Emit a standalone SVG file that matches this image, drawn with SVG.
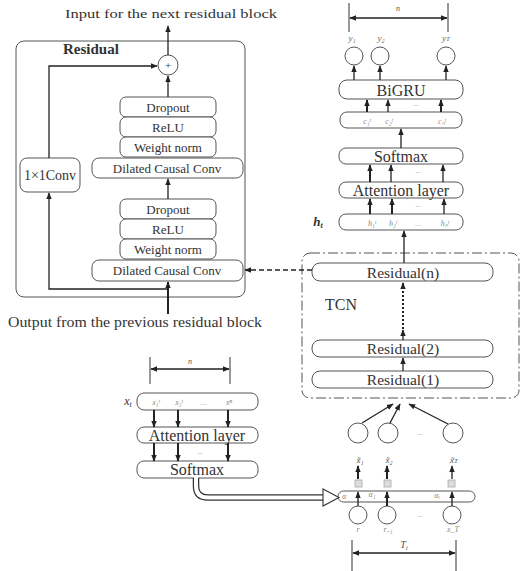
<svg xmlns="http://www.w3.org/2000/svg" width="522" height="571" viewBox="0 0 522 571">
<defs>
  <marker id="ah" viewBox="0 0 10 10" refX="9" refY="5" markerWidth="7" markerHeight="7" markerUnits="userSpaceOnUse" orient="auto-start-reverse">
    <path d="M0,1 L10,5 L0,9 z" fill="#222"/>
  </marker>
  <style>
    .box{fill:#fff;stroke:#555;stroke-width:1}
    .ln{fill:none;stroke:#222;stroke-width:1.3}
    .thk{fill:none;stroke:#222;stroke-width:2}
    .t{font-family:"Liberation Serif","Times New Roman",serif;fill:#333;text-anchor:middle}
    .st{font-size:13px}
    .lg{font-size:16px}
    .s{font-family:"Liberation Serif",serif;fill:#888;font-style:italic;text-anchor:middle;font-size:8px}
    .dots{font-family:"Liberation Serif",serif;fill:#aaa;text-anchor:middle;font-size:9px}
    .circ{fill:#fff;stroke:#555;stroke-width:1}
  </style>
</defs>

<!-- residual block detail -->
<g id="residual-detail">
  <rect x="16" y="41" width="229" height="256" rx="8" class="box"/>
  <text x="63" y="54" class="t" style="text-anchor:start;font-weight:bold;font-size:15px">Residual</text>
  <text x="171" y="18" class="t" style="font-size:13px" textLength="212" lengthAdjust="spacingAndGlyphs">Input for the next residual block</text>
  <text x="135" y="327" class="t" style="font-size:14px" textLength="254" lengthAdjust="spacingAndGlyphs">Output from the previous residual block</text>
</g>
<g id="add">
  <circle cx="168" cy="65" r="10" class="circ"/>
  <text x="168" y="69" class="t" style="font-size:11px">+</text>
</g>
<g id="conv1x1">
  <rect x="20" y="158" width="60" height="34" rx="7" class="box"/>
  <text x="50" y="180" class="t" style="font-size:14px">1×1Conv</text>
</g>
<g id="stack-upper">
  <rect x="120" y="97" width="96" height="20" rx="6" class="box"/>
  <text x="168" y="111.5" class="t st">Dropout</text>
  <rect x="120" y="117" width="96" height="20" rx="6" class="box"/>
  <text x="168" y="131.5" class="t st">ReLU</text>
  <rect x="120" y="137" width="96" height="20" rx="6" class="box"/>
  <text x="168" y="151.5" class="t st">Weight norm</text>
  <rect x="92" y="158" width="151" height="20" rx="7" class="box"/>
  <text x="167" y="172.5" class="t st">Dilated Causal Conv</text>
</g>
<g id="stack-lower">
  <rect x="120" y="199" width="96" height="20" rx="6" class="box"/>
  <text x="168" y="213.5" class="t st">Dropout</text>
  <rect x="120" y="219" width="96" height="20" rx="6" class="box"/>
  <text x="168" y="233.5" class="t st">ReLU</text>
  <rect x="120" y="239" width="96" height="20" rx="6" class="box"/>
  <text x="168" y="253.5" class="t st">Weight norm</text>
  <rect x="92" y="260" width="151" height="21" rx="7" class="box"/>
  <text x="167" y="275" class="t st">Dilated Causal Conv</text>
</g>

<!-- TCN -->
<g id="tcn">
  <rect x="302" y="253" width="217" height="145" rx="8" fill="none" stroke="#555" stroke-width="1" stroke-dasharray="10,3,2,3"/>
  <text x="325" y="310" class="t" style="text-anchor:start;font-size:16px">TCN</text>
</g>
<g id="res-n">
  <rect x="312" y="263" width="181" height="18" rx="8" class="box"/>
  <text x="403" y="277.5" class="t" style="font-size:15.5px">Residual(n)</text>
</g>
<g id="res-2">
  <rect x="312" y="340" width="181" height="17" rx="8" class="box"/>
  <text x="403" y="354" class="t" style="font-size:15.5px">Residual(2)</text>
</g>
<g id="res-1">
  <rect x="312" y="371" width="181" height="17" rx="8" class="box"/>
  <text x="403" y="385" class="t" style="font-size:15.5px">Residual(1)</text>
</g>

<!-- upper right column -->
<g id="h-seq">
  <rect x="339" y="214" width="124" height="16" rx="7" class="box"/>
  <text x="318" y="226" class="t" style="font-size:13px;font-weight:bold;font-style:italic">h<tspan font-size="8" dy="2">t</tspan></text>
  <text x="372" y="226" class="s">h₁ᵗ</text>
  <text x="393" y="226" class="s">h₂ᵗ</text>
  <text x="418" y="226" class="dots">...</text>
  <text x="445" y="226" class="s">hₙᵗ</text>
</g>
<g id="attn-top">
  <rect x="339" y="182" width="124" height="16" rx="7" class="box"/>
  <text x="401" y="195.5" class="t lg">Attention layer</text>
</g>
<g id="softmax-top">
  <rect x="339" y="148" width="124" height="16" rx="7" class="box"/>
  <text x="401" y="161.5" class="t lg">Softmax</text>
</g>
<g id="c-seq">
  <rect x="340" y="112" width="122" height="16" rx="7" class="box"/>
  <text x="367" y="124" class="s">c₁ᵗ</text>
  <text x="389" y="124" class="s">c₂ᵗ</text>
  <text x="442" y="124" class="s">cₙᵗ</text>
</g>
<g id="bigru">
  <rect x="339" y="80" width="124" height="19" rx="8" class="box"/>
  <text x="401" y="95.5" class="t lg">BiGRU</text>
</g>
<g id="outputs">
  <circle cx="354" cy="56" r="9" class="circ"/>
  <circle cx="380" cy="56" r="9" class="circ"/>
  <circle cx="446" cy="56" r="9" class="circ"/>
  <text x="352" y="41" class="s" style="font-size:9px;fill:#666">y₁</text>
  <text x="381" y="41" class="s" style="font-size:9px;fill:#666">y₂</text>
  <text x="446" y="41" class="s" style="font-size:9px;fill:#666">y<tspan font-size="7">T</tspan></text>
  <line x1="349" y1="3" x2="349" y2="32" stroke="#333" stroke-width="1"/>
  <line x1="448" y1="3" x2="448" y2="32" stroke="#333" stroke-width="1"/>
  <text x="398" y="11" class="s" style="font-size:8px;fill:#555">n</text>
</g>

<!-- lower left input attention -->
<g id="x-seq">
  <text x="128" y="405" class="t" style="font-size:12px;font-style:italic">x<tspan font-size="8" dy="2">t</tspan></text>
  <rect x="137" y="393" width="121" height="17" rx="7" class="box"/>
  <text x="156" y="405" class="s">x₁ᵗ</text>
  <text x="179" y="405" class="s">x₂ᵗ</text>
  <text x="203" y="405" class="dots">...</text>
  <text x="229" y="405" class="s">xⁿ</text>
  <line x1="150" y1="357" x2="150" y2="384" stroke="#333" stroke-width="1"/>
  <line x1="230" y1="357" x2="230" y2="384" stroke="#333" stroke-width="1"/>
  <text x="190" y="364" class="s" style="fill:#555">n</text>
</g>
<g id="attn-bottom">
  <rect x="137" y="427" width="121" height="16" rx="7" class="box"/>
  <text x="197" y="440.5" class="t lg">Attention layer</text>
</g>
<g id="softmax-bottom">
  <rect x="137" y="461" width="121" height="17" rx="7" class="box"/>
  <text x="197" y="475" class="t lg">Softmax</text>
</g>

<!-- weighted input -->
<g id="weights">
  <rect x="338" y="491" width="137" height="11" rx="5.5" class="box"/>
  <text x="344" y="499" class="s">α</text>
  <text x="372" y="497" class="s">α₁</text>
  <text x="437" y="498" class="s">αᵢ</text>
  <rect x="355" y="480" width="7" height="7" fill="#ddd" stroke="#aaa" stroke-width="0.8"/>
  <rect x="384" y="480" width="7" height="7" fill="#ddd" stroke="#aaa" stroke-width="0.8"/>
  <rect x="448" y="480" width="7" height="7" fill="#ddd" stroke="#aaa" stroke-width="0.8"/>
</g>
<g id="inputs-raw">
  <circle cx="358" cy="515" r="9" class="circ"/>
  <circle cx="387" cy="515" r="9" class="circ"/>
  <circle cx="452" cy="515" r="9" class="circ"/>
  <text x="358" y="532" class="s">r</text>
  <text x="388" y="532" class="s">r₋₁</text>
  <text x="453" y="532" class="s">x_T</text>
  <text x="420" y="518" class="dots">–</text>
  <line x1="352" y1="540" x2="352" y2="571" stroke="#333" stroke-width="1"/>
  <line x1="456" y1="540" x2="456" y2="571" stroke="#333" stroke-width="1"/>
  <text x="404" y="548" class="s" style="font-size:10px;fill:#555">T<tspan font-size="7" dy="2">i</tspan></text>
</g>
<g id="inputs-weighted">
  <circle cx="358" cy="433" r="10" class="circ"/>
  <circle cx="388" cy="433" r="10" class="circ"/>
  <circle cx="453" cy="433" r="10" class="circ"/>
  <text x="420" y="436" class="dots">–</text>
  <text x="360" y="463" class="s" style="font-size:9px;fill:#555">x̃₁</text>
  <text x="389" y="463" class="s" style="font-size:9px;fill:#555">x̃₂</text>
  <text x="454" y="463" class="s" style="font-size:9px;fill:#555">x̃<tspan font-size="7">T</tspan></text>
</g>

<!-- connectors -->
<g id="connectors">
  <path class="ln" d="M168,55 V26" marker-end="url(#ah)"/>
  <path class="ln" d="M49,158 V66 H157" marker-end="url(#ah)"/>
  <path class="ln" d="M168,97 V76" marker-end="url(#ah)"/>
  <path class="ln" d="M168,199 V179" marker-end="url(#ah)"/>
  <path class="thk" d="M168,314 V282" marker-end="url(#ah)"/>
  <path class="ln" d="M168,289 H49 V193" marker-end="url(#ah)"/>
  <path class="ln" d="M312,270 H245" stroke-dasharray="5,3" marker-end="url(#ah)"/>

  <path class="ln" d="M403,371 V358" marker-end="url(#ah)"/>
  <path class="ln" d="M403,340 V330" marker-end="url(#ah)"/>
  <path class="thk" d="M403,329 V283" stroke-dasharray="2,2" marker-end="url(#ah)"/>
  <path class="ln" d="M404,263 V231" marker-end="url(#ah)"/>

  <path class="thk" d="M370,214 V199" marker-end="url(#ah)"/>
  <path class="thk" d="M392,214 V199" marker-end="url(#ah)"/>
  <path class="ln" d="M444,214 V199" marker-end="url(#ah)"/>
  <text x="418" y="208" class="dots">–</text>
  <path class="thk" d="M370,182 V165" marker-end="url(#ah)"/>
  <path class="ln" d="M391,182 V165" marker-end="url(#ah)"/>
  <path class="ln" d="M443,182 V165" marker-end="url(#ah)"/>
  <text x="418" y="174" class="dots">–</text>
  <path class="ln" d="M401,148 V129" marker-end="url(#ah)"/>
  <path class="thk" d="M367,112 V100" marker-end="url(#ah)"/>
  <path class="ln" d="M388,112 V100" marker-end="url(#ah)"/>
  <path class="thk" d="M441,112 V100" marker-end="url(#ah)"/>
  <text x="416" y="107" class="dots">–</text>
  <path class="ln" d="M354,80 V66" marker-end="url(#ah)"/>
  <path class="ln" d="M380,80 V66" marker-end="url(#ah)"/>
  <path class="ln" d="M446,80 V66" marker-end="url(#ah)"/>
  <path class="ln" d="M350,18 H447" marker-start="url(#ah)" marker-end="url(#ah)"/>

  <path class="ln" d="M151,369 H229" marker-start="url(#ah)" marker-end="url(#ah)"/>
  <path class="thk" d="M154,410 V427" marker-end="url(#ah)"/>
  <path class="thk" d="M178,410 V427" marker-end="url(#ah)"/>
  <path class="thk" d="M228,410 V427" marker-end="url(#ah)"/>
  <path class="thk" d="M154,443 V461" marker-end="url(#ah)"/>
  <path class="thk" d="M178,443 V461" marker-end="url(#ah)"/>
  <path class="thk" d="M228,443 V461" marker-end="url(#ah)"/>
  <text x="200" y="455" class="dots">–</text>

  <!-- hollow double-line arrow into the weighting bar -->
  <path d="M196,478 V486 Q196,497.5 208,497.5 H324" fill="none" stroke="#333" stroke-width="6.5"/>
  <path d="M196,477 V486 Q196,497.5 208,497.5 H325" fill="none" stroke="#fff" stroke-width="4"/>
  <polygon points="323,489 339,497.5 323,506" fill="#fff" stroke="#333" stroke-width="1.1"/>

  <path class="ln" d="M358,506 V492" marker-end="url(#ah)"/>
  <path class="thk" d="M387,506 V492" marker-end="url(#ah)"/>
  <path class="ln" d="M452,506 V492" marker-end="url(#ah)"/>
  <path class="thk" d="M358,479 V466" marker-end="url(#ah)"/>
  <path class="thk" d="M387,479 V466" marker-end="url(#ah)"/>
  <path class="ln" d="M452,479 V466" marker-end="url(#ah)"/>

  <path class="ln" d="M362,423 L393,404" marker-end="url(#ah)"/>
  <path class="ln" d="M390,423 L400,404" marker-end="url(#ah)"/>
  <path class="ln" d="M448,424 L409,404" marker-end="url(#ah)"/>

  <path class="ln" d="M353,553 H455" marker-start="url(#ah)" marker-end="url(#ah)"/>
</g>
</svg>
